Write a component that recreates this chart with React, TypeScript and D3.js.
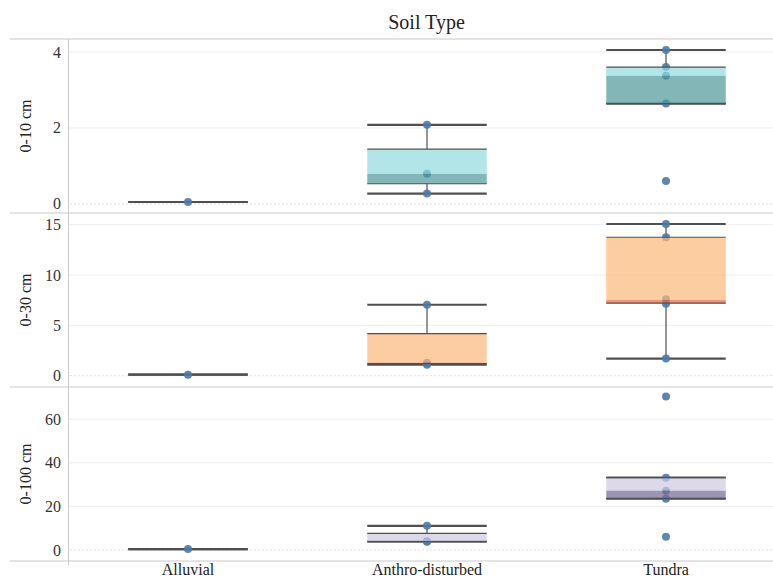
import React from 'react'
import * as d3 from 'd3'

const categories = ['Alluvial', 'Anthro-disturbed', 'Tundra']
const depths = ['0-10 cm', '0-30 cm', '0-100 cm']
const tickValues = [[0, 2, 4], [0, 5, 10, 15], [0, 20, 40, 60]]
const domains: [number, number][] = [[-0.24, 4.34], [-1.12, 16.16], [-5.05, 74.8]]

// [low whisker, q1, median, q3, high whisker] per category
const stats10 = [[0.05, 0.05, 0.05, 0.05, 0.05], [0.27, 0.53, 0.79, 1.44, 2.08], [2.64, 2.64, 3.37, 3.6, 4.05]]
const stats30 = [[0.1, 0.1, 0.1, 0.1, 0.1], [1.1, 1.2, 1.3, 4.18, 7.05], [1.7, 7.2, 7.52, 13.75, 15.07]]
const stats100 = [[0.4, 0.4, 0.4, 0.4, 0.4], [3.8, 3.9, 4.0, 7.6, 11.1], [23.6, 23.6, 27.2, 33.2, 33.2]]

const points10 = [[0.05], [0.27, 0.79, 2.08], [0.6, 2.64, 3.37, 3.6, 4.05]]
const points30 = [[0.1], [1.1, 1.3, 7.05], [1.7, 7.15, 7.6, 13.75, 15.07]]
const points100 = [[0.4], [3.8, 4.0, 11.1], [6.1, 23.5, 27.2, 33.2, 70.4]]

const upperFill = ['#91dade', '#fcb87a', '#cdc9e1']
const lowerFill = ['#4f9797', '#ea693e', '#746a92']

const W = 773
const H = 578
const LEFT = 68.5
const TOP = 39
const PANEL_H = 174
const FONT = '"Liberation Serif", "Times New Roman", serif'
const LINE = '#505050'

export default function App() {
  const allStats = [stats10, stats30, stats100]
  const allPoints = [points10, points30, points100]
  const x = d3.scaleBand().domain(categories).range([LEFT, LEFT + 717])
  const bw = x.bandwidth() / 2

  return (
    <svg width={W} height={H} style={{ position: 'absolute', left: 0, top: 0, fontFamily: FONT }}>
      <rect width={W} height={H} fill="#fff" />
      <text x={426.5} y={29} textAnchor="middle" fontSize={20} fill="#222">Soil Type</text>

      {depths.map((depth, pi) => {
        const top = TOP + pi * PANEL_H
        const y = d3.scaleLinear().domain(domains[pi]).range([top + PANEL_H, top])
        const stats = allStats[pi]
        const pts = allPoints[pi]
        return (
          <g key={depth}>
            {tickValues[pi].map(t => (
              <g key={t}>
                {t === 0 ? (
                  <line x1={LEFT + 2} x2={W} y1={y(t)} y2={y(t)} stroke="#bbb" strokeDasharray="1,3" />
                ) : (
                  <line x1={LEFT} x2={W} y1={y(t)} y2={y(t)} stroke="#eeeeee" />
                )}
                <text x={61} y={y(t)} dy="0.35em" textAnchor="end" fontSize={16} fill="#333">{t}</text>
              </g>
            ))}
            <text transform={`translate(31,${top + PANEL_H / 2}) rotate(-90)`} textAnchor="middle" fontSize={16} fill="#222">{depth}</text>

            {categories.map((c, ci) => {
              const [lo, q1, med, q3, hi] = stats[ci]
              const cx = x(c)! + x.bandwidth() / 2
              const x0 = cx - bw / 2
              return (
                <g key={c}>
                  <line x1={cx} x2={cx} y1={y(hi)} y2={y(q3)} stroke={LINE} strokeWidth={1.2} />
                  <line x1={cx} x2={cx} y1={y(q1)} y2={y(lo)} stroke={LINE} strokeWidth={1.2} />
                  <line x1={x0} x2={x0 + bw} y1={y(hi)} y2={y(hi)} stroke={LINE} strokeWidth={2.2} />
                  <line x1={x0} x2={x0 + bw} y1={y(lo)} y2={y(lo)} stroke={LINE} strokeWidth={2.2} />
                  {pts[ci].map((v, k) => (
                    <circle key={k} cx={cx} cy={y(v)} r={4} fill="#4e79a7" opacity={0.9} />
                  ))}
                  {q3 > q1 && (
                    <g>
                      <rect x={x0} width={bw} y={y(q3)} height={y(med) - y(q3)} fill={upperFill[pi]} opacity={0.7} />
                      <rect x={x0} width={bw} y={y(med)} height={y(q1) - y(med)} fill={lowerFill[pi]} opacity={0.7} />
                      <line x1={x0} x2={x0 + bw} y1={y(q3)} y2={y(q3)} stroke={LINE} strokeWidth={1.2} />
                      <line x1={x0} x2={x0 + bw} y1={y(q1)} y2={y(q1)} stroke={LINE} strokeWidth={1.2} />
                    </g>
                  )}
                </g>
              )
            })}
          </g>
        )
      })}

      {[0, 1, 2, 3].map(i => (
        <line key={i} x1={10} x2={W} y1={TOP + i * PANEL_H} y2={TOP + i * PANEL_H} stroke="#c8c8c8" />
      ))}
      <line x1={LEFT} x2={LEFT} y1={TOP} y2={TOP + 3 * PANEL_H + 4} stroke="#c8c8c8" />

      {categories.map(c => (
        <text key={c} x={x(c)! + x.bandwidth() / 2} y={575} textAnchor="middle" fontSize={16} fill="#222">{c}</text>
      ))}
    </svg>
  )
}
